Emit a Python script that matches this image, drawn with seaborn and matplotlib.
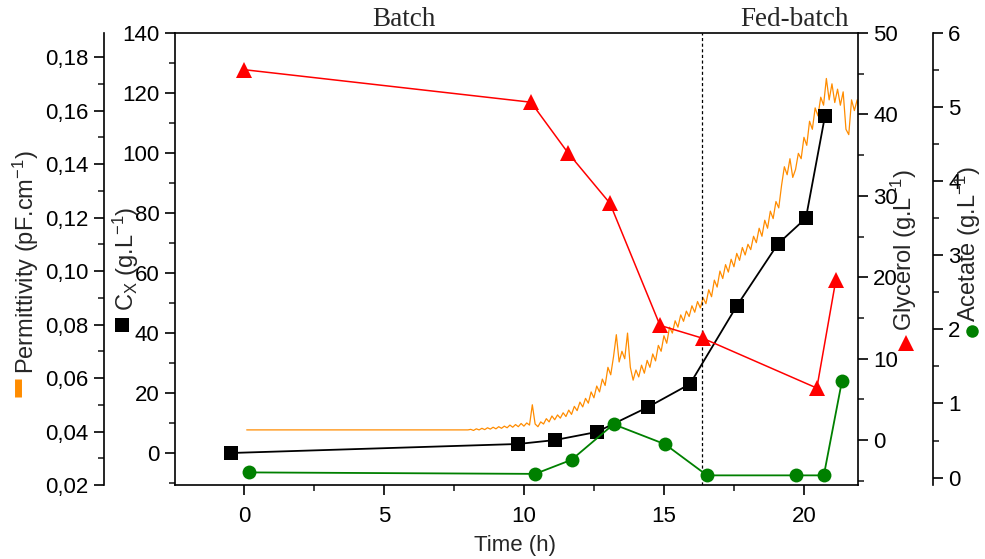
import numpy as np
import pandas as pd
import matplotlib
matplotlib.use('Agg')
import matplotlib.pyplot as plt
import seaborn as sns
from matplotlib.lines import Line2D
from matplotlib.ticker import MultipleLocator, FuncFormatter

sns.set_style('ticks')
plt.rcParams['font.family'] = ['Liberation Sans', 'DejaVu Sans']
plt.rcParams['mathtext.fontset'] = 'custom'
plt.rcParams['mathtext.rm'] = 'Liberation Sans'
plt.rcParams['mathtext.it'] = 'Liberation Sans:italic'

# biomass (g/L)
cx_time = [-0.46, 9.79, 11.1, 12.6, 14.43, 15.93, 17.6, 19.07, 20.07, 20.75]
cx_val = [0.0, 3.0, 4.3, 7.0, 15.3, 23.0, 49.0, 69.7, 78.3, 112.3]

# glycerol (g/L)
gly_time = [0.0, 10.25, 11.57, 13.07, 14.86, 16.4, 20.46, 21.14]
gly_val = [45.5, 41.5, 35.3, 29.1, 14.1, 12.5, 6.4, 19.7]

# acetate (g/L)
ace_time = [0.18, 10.4, 11.7, 13.2, 15.04, 16.54, 19.71, 20.71, 21.36]
ace_val = [0.07, 0.05, 0.24, 0.72, 0.45, 0.03, 0.03, 0.03, 1.31]

# permittivity probe signal (pF/cm): flat start, then sampled every 0.1 h from 8 h
perm_start_time = [0.1]
perm_start_val = [0.0406]
perm_val = [
    .0406, .0408, .0404, .0410, .0406, .0412, .0407, .0414, .0409, .0416,
    .0410, .0418, .0412, .0420, .0414, .0424, .0416, .0426, .0418, .0430,
    .0420, .0432, .0424, .0500, .0428, .0418, .0436, .0428, .0448, .0436,
    .0458, .0444, .0462, .0450, .0470, .0456, .0480, .0464, .0494, .0478,
    .0510, .0492, .0524, .0506, .0548, .0526, .0570, .0548, .0596, .0572,
    .0640, .0612, .0680, .0762, .0660, .0700, .0672, .0768, .0640, .0592,
    .0630, .0604, .0648, .0618, .0666, .0640, .0690, .0664, .0722, .0700,
    .0758, .0730, .0790, .0768, .0814, .0790, .0836, .0812, .0850, .0830,
    .0870, .0846, .0886, .0862, .0900, .0878, .0930, .0904, .0966, .0940,
    .1000, .0972, .1024, .0996, .1044, .1016, .1066, .1040, .1088, .1060,
    .1100, .1080, .1130, .1106, .1160, .1130, .1190, .1160, .1224, .1196,
    .1260, .1236, .1320, .1390, .1360, .1420, .1350, .1380, .1440, .1420,
    .1500, .1470, .1560, .1530, .1610, .1580, .1650, .1620, .1720, .1640,
    .1700, .1630, .1680, .1620, .1670, .1530, .1510, .1640, .1600, .1640,
    .1580,
]
perm_time = list(np.round(8.0 + 0.1 * np.arange(len(perm_val)), 1))

feed_start = 16.35

df_cx = pd.DataFrame({'t': cx_time, 'v': cx_val})
df_gly = pd.DataFrame({'t': gly_time, 'v': gly_val})
df_ace = pd.DataFrame({'t': ace_time, 'v': ace_val})
df_perm = pd.DataFrame({'t': perm_start_time + perm_time,
                        'v': perm_start_val + perm_val})

W, H = 985, 559
fig = plt.figure(figsize=(W / 100, H / 100), dpi=100)
left, right, top, bottom = 175, 858, 33, 485
ax = fig.add_axes([left / W, 1 - bottom / H, (right - left) / W, (bottom - top) / H])
ax_p = ax.twinx()
ax_g = ax.twinx()
ax_a = ax.twinx()

ax_p.set_zorder(0)
ax.set_zorder(1)
ax.patch.set_visible(False)
ax_g.set_zorder(2)
ax_a.set_zorder(3)

fs = 16
tick_kw = dict(direction='out', width=1.2, colors='black', labelsize=fs)

# permittivity (behind everything)
sns.lineplot(data=df_perm, x='t', y='v', ax=ax_p, color='#ff8c00', lw=0.9,
             estimator=None, sort=False)
# biomass
sns.lineplot(data=df_cx, x='t', y='v', ax=ax, color='black', lw=1.3,
             marker='s', markersize=10, markeredgewidth=0, estimator=None)
# glycerol
sns.lineplot(data=df_gly, x='t', y='v', ax=ax_g, color='#ff0000', lw=1.1,
             marker='^', markersize=12, markeredgewidth=0, estimator=None)
# acetate
sns.lineplot(data=df_ace, x='t', y='v', ax=ax_a, color='#008000', lw=1.3,
             marker='o', markersize=10, markeredgewidth=0, estimator=None)

ax.axvline(feed_start, color='black', lw=0.9, ls=(0, (2.5, 2)))

for a in (ax, ax_p, ax_g, ax_a):
    a.set_xlabel('')
    a.set_ylabel('')
    for s in a.spines.values():
        s.set_linewidth(1.2)
        s.set_color('black')

ax.set_xlim(-2.46, 21.93)
ax.set_ylim(-10.67, 140)
ax.xaxis.set_major_locator(MultipleLocator(5))
ax.xaxis.set_minor_locator(MultipleLocator(2.5))
ax.yaxis.set_major_locator(MultipleLocator(20))
ax.yaxis.set_minor_locator(MultipleLocator(10))
ax.tick_params(axis='both', which='major', length=7, pad=4, **tick_kw)
ax.tick_params(axis='both', which='minor', length=4, direction='out', width=1.2)
ax.tick_params(axis='x', pad=8)
ax.tick_params(axis='y', which='both', right=False)
ax.tick_params(axis='x', which='both', top=False)
ax.spines['right'].set_visible(False)

# permittivity axis on the far left
ax_p.set_ylim(0.02, 0.189)
ax_p.yaxis.set_ticks_position('left')
ax_p.spines['left'].set_position(('outward', 71 * 0.72))
ax_p.spines['left'].set_visible(True)
for s in ('right', 'top', 'bottom'):
    ax_p.spines[s].set_visible(False)
ax_p.yaxis.set_major_locator(MultipleLocator(0.02))
ax_p.yaxis.set_minor_locator(MultipleLocator(0.01))
ax_p.yaxis.set_major_formatter(FuncFormatter(lambda v, p: f'{v:.2f}'.replace('.', ',')))
ax_p.tick_params(axis='y', which='major', length=7, pad=4, **tick_kw)
ax_p.tick_params(axis='y', which='minor', length=4, direction='out', width=1.2)

# glycerol axis on the frame right
ax_g.set_ylim(-5.5, 50)
ax_g.yaxis.set_major_locator(MultipleLocator(10))
ax_g.yaxis.set_minor_locator(MultipleLocator(5))
ax_g.tick_params(axis='y', which='major', length=7, pad=4, **tick_kw)
ax_g.tick_params(axis='y', which='minor', length=4, direction='out', width=1.2)
for s in ('left', 'top', 'bottom'):
    ax_g.spines[s].set_visible(False)

# acetate axis further right
ax_a.set_ylim(-0.1, 6)
ax_a.spines['right'].set_position(('outward', 75 * 0.72))
for s in ('left', 'top', 'bottom'):
    ax_a.spines[s].set_visible(False)
ax_a.yaxis.set_major_locator(MultipleLocator(1))
ax_a.yaxis.set_minor_locator(MultipleLocator(0.5))
ax_a.tick_params(axis='y', which='major', length=7, pad=4, **tick_kw)
ax_a.tick_params(axis='y', which='minor', length=4, direction='out', width=1.2)

# axis titles with their series symbols
fig.text(515 / W, 1 - 545 / H, 'Time (h)', ha='center', va='center', fontsize=16)


def side_label(x, y_bottom, text, sym_x, sym_y, **sym):
    fig.text(x / W, 1 - y_bottom / H, text, rotation=90, ha='center', va='bottom',
             fontsize=17)
    sym.setdefault('markeredgewidth', 0)
    fig.add_artist(Line2D([sym_x / W], [1 - sym_y / H], transform=fig.transFigure,
                          ls='none', **sym))


side_label(26, 374, r'Permittivity (pF.cm$^{-1}$)', 18, 388,
           marker='|', markersize=13, markeredgewidth=5, color='#ff8c00')
side_label(126, 311, r'C$_\mathrm{X}$ (g.L$^{-1}$)', 122, 325,
           marker='s', markersize=10, color='black')
side_label(904, 331, r'Glycerol (g.L$^{-1}$)', 906, 343,
           marker='^', markersize=12, color='#ff0000')
side_label(968, 322, r'Acetate (g.L$^{-1}$)', 972, 331,
           marker='o', markersize=9, color='#008000')

fig.text(404 / W, 1 - 20 / H, 'Batch', ha='center', va='center', fontsize=19.5,
         family='Liberation Serif')
fig.text(795 / W, 1 - 20 / H, 'Fed-batch', ha='center', va='center', fontsize=19.5,
         family='Liberation Serif')

fig.savefig('out.png', dpi=100)
